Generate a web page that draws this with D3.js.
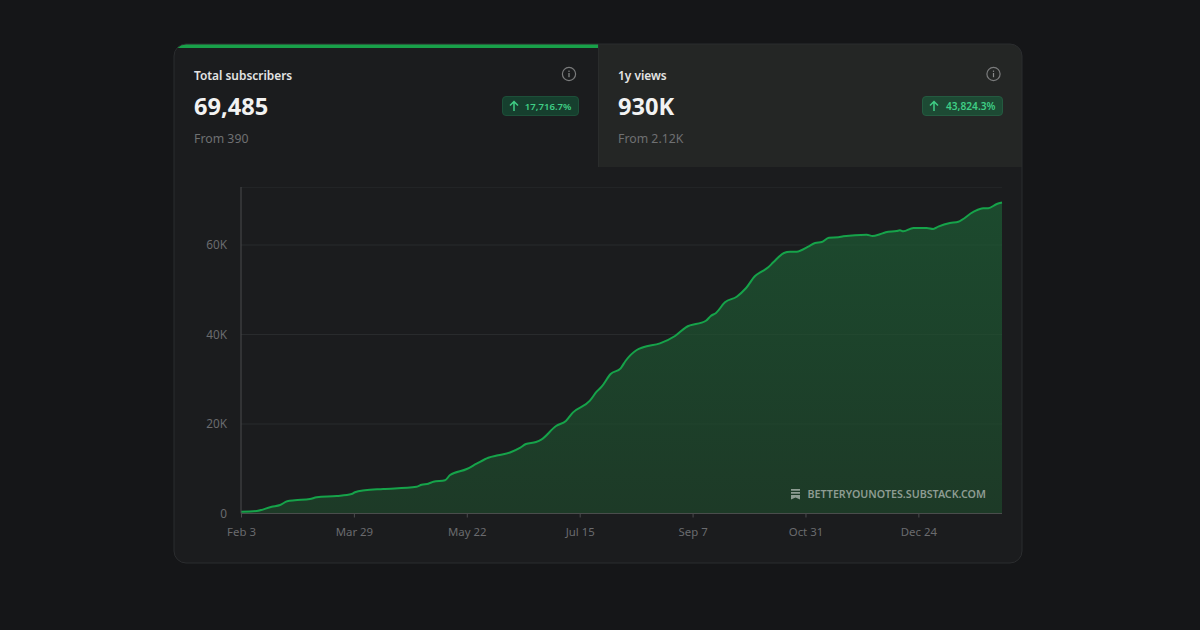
<!DOCTYPE html>
<html><head><meta charset="utf-8">
<script src="https://cdn.jsdelivr.net/npm/d3@7"></script>
<style>
html,body{margin:0;padding:0;background:#151618;width:1200px;height:630px;overflow:hidden}
text{font-family:"Noto Sans","Open Sans",sans-serif}
</style></head><body>
<svg id="c" width="1200" height="630"></svg>
<script>
const days=[0,7.5,14.7,18.7,22.1,25.8,33,36.2,45.8,52.9,54.5,59.3,68,84,86.4,89.6,92,97.6,100,108,112.7,118.3,123,128.7,133.4,136.3,141.1,143.8,150.7,155.4,158.7,166.9,170.1,172.5,176.8,181.6,184,189.3,192.4,200.4,207.6,212.8,222.4,224.7,227.2,231.5,237.1,241.5,245.9,249,252.2,254.6,259.7,262.6,265.8,271.3,274.6,277.8,281.2,285.7,288.1,299.3,302.1,305.6,308.4,313.6,315.2,316.8,321.6,328,331.1,333.5,339.1,343.1,350.3,355,357.4,361.5,364];
const subscribers=[390,560,1520,1900,2730,2950,3240,3620,3910,4360,4740,5180,5470,5990,6440,6660,7100,7420,8600,9940,11130,12470,13000,13630,14640,15530,15980,16580,19550,20670,22530,25210,27220,28340,31170,32450,34140,36540,37140,38030,39670,41610,43080,44130,44810,47200,48450,50330,53080,54040,55020,56130,58210,58500,58500,59620,60450,60670,61630,61720,61940,62300,62010,62390,62840,63130,63280,63060,63800,63800,63580,64090,64920,65210,67380,68210,68210,69170,69485];
const xTickDays=[0,54,108,162,216,270,324];
const xTickLabels=["Feb 3","Mar 29","May 22","Jul 15","Sep 7","Oct 31","Dec 24"];
const yTicks=[0,20000,40000,60000];
const yTickLabels=["0","20K","40K","60K"];
const cards=[
 {title:"Total subscribers",value:"69,485",from:"From 390",badge:"17,716.7%"},
 {title:"1y views",value:"930K",from:"From 2.12K",badge:"43,824.3%"}
];
const svg=d3.select("#c");
const defs=svg.append("defs");
const cardPath="M174 56a12 12 0 0 1 12-12H1010a12 12 0 0 1 12 12V551a12 12 0 0 1-12 12H186a12 12 0 0 1-12-12Z";
defs.append("clipPath").attr("id","cardClip").append("path").attr("d",cardPath);
const grad=defs.append("linearGradient").attr("id","areaG").attr("x1",0).attr("x2",0).attr("y1",0).attr("y2",1);
grad.append("stop").attr("offset","0%").attr("stop-color","#1c4a2e");
grad.append("stop").attr("offset","100%").attr("stop-color","#1d3a27");
svg.append("path").attr("d",cardPath).attr("fill","#1b1c1e");
const clip=svg.append("g").attr("clip-path","url(#cardClip)");
clip.append("rect").attr("x",598).attr("y",44).attr("width",424).attr("height",123).attr("fill","#242625");
clip.append("rect").attr("x",598).attr("y",44).attr("width",1).attr("height",123).attr("fill","#2a2c2c");
clip.append("rect").attr("x",174).attr("y",44).attr("width",424).attr("height",4).attr("fill","#18a049");
svg.append("path").attr("d",cardPath).attr("fill","none").attr("stroke","#2b2d2f").attr("stroke-width",1);

const tabX=[194,618], badgeR=[578.5,1002.5], infoX=[569,993.5], badgeW=[76,80], badgeFont=[9.6,10.2];
cards.forEach((c,i)=>{
 const g=svg.append("g");
 g.append("text").attr("x",tabX[i]).attr("y",79.5).attr("fill","#e4e4e4").attr("font-size",11.9).attr("font-weight",600).text(c.title);
 g.append("text").attr("x",tabX[i]).attr("y",115).attr("fill","#f2f2f2").attr("font-size",23.6).attr("font-weight",700).text(c.value);
 g.append("text").attr("x",tabX[i]).attr("y",143).attr("fill","#6f7072").attr("font-size",12.3).text(c.from);
 g.append("circle").attr("cx",infoX[i]).attr("cy",74).attr("r",6.6).attr("fill","none").attr("stroke","#7a7b7c").attr("stroke-width",1.2);
 g.append("rect").attr("x",infoX[i]-.6).attr("y",73).attr("width",1.2).attr("height",4.2).attr("fill","#8a8b8c");
 g.append("rect").attr("x",infoX[i]-.6).attr("y",70.6).attr("width",1.2).attr("height",1.3).attr("fill","#8a8b8c");
 const bx=badgeR[i]-badgeW[i];
 g.append("rect").attr("x",bx).attr("y",96.5).attr("width",badgeW[i]).attr("height",19).attr("rx",3.5).attr("fill",i?"#1d4a34":"#163f2e").attr("stroke",i?"#245a40":"#1d4f39");
 const ax=bx+11.5;
 g.append("path").attr("d",`M${ax} 111V102M${ax-4} 105.6L${ax} 101.5L${ax+4} 105.6`).attr("fill","none").attr("stroke","#3fce85").attr("stroke-width",1.5);
 g.append("text").attr("x",badgeR[i]-7).attr("y",110).attr("text-anchor","end").attr("fill","#3fce85").attr("font-size",badgeFont[i]).attr("font-weight",600).text(c.badge);
});

const x=d3.scaleLinear().domain([0,364]).range([241,1002]);
const y=d3.scaleLinear().domain([0,60000]).range([513.5,245]);
const grid=svg.append("g");
grid.selectAll("line").data(yTicks.slice(1)).join("line")
 .attr("x1",241).attr("x2",1002).attr("y1",d=>y(d)).attr("y2",d=>y(d)).attr("stroke","#242628");
grid.append("line").attr("x1",241).attr("x2",1002).attr("y1",187.5).attr("y2",187.5).attr("stroke","#222426");

const area=d3.area().x((d,i)=>x(days[i])).y0(y(0)).y1(d=>y(d)).curve(d3.curveMonotoneX);
const line=d3.line().x((d,i)=>x(days[i])).y(d=>y(d)).curve(d3.curveMonotoneX);
svg.append("path").datum(subscribers).attr("d",area).attr("fill","url(#areaG)");
svg.append("g").selectAll("line").data(yTicks.slice(1)).join("line")
 .attr("x1",241).attr("x2",1002).attr("y1",d=>y(d)).attr("y2",d=>y(d)).attr("stroke","#ffffff").attr("stroke-opacity",.025);
svg.append("path").datum(subscribers).attr("d",line).attr("fill","none").attr("stroke","#16a34a").attr("stroke-width",2);

const xAxis=d3.axisBottom(x).tickValues(xTickDays).tickFormat((d,i)=>xTickLabels[i]).tickSize(4).tickPadding(10);
const gx=svg.append("g").attr("transform","translate(0,513.5)").call(xAxis);
gx.select(".domain").attr("d","M241 0H1002").attr("stroke","#4a4d4c").attr("fill","none");
gx.selectAll(".tick line").attr("stroke","#4a4b4d");
gx.selectAll("text").attr("fill","#6a6b6e").attr("font-size",11.4).attr("font-family",'"Noto Sans"');
const yAxis=d3.axisLeft(y).tickValues(yTicks).tickFormat((d,i)=>yTickLabels[i]).tickSize(0).tickPadding(14);
const gy=svg.append("g").attr("transform","translate(241,0)").call(yAxis);
gy.select(".domain").attr("d","M0 187V513.5").attr("stroke","#4a4b4d").attr("fill","none");
gy.selectAll("text").attr("fill","#6a6b6e").attr("font-size",11.8).attr("font-family",'"Noto Sans"');

const wm=svg.append("g");
wm.append("path").attr("d","M791 489h9v1.8h-9ZM791 492h9v1.8h-9ZM791 495h9v4.5l-4.5-2l-4.5 2Z").attr("fill","#8d9c92");
wm.append("text").attr("x",807.5).attr("y",497.5).attr("fill","#8d9c92").attr("font-size",10.7).attr("font-weight",600).text("BETTERYOUNOTES.SUBSTACK.COM");
</script></body></html>
